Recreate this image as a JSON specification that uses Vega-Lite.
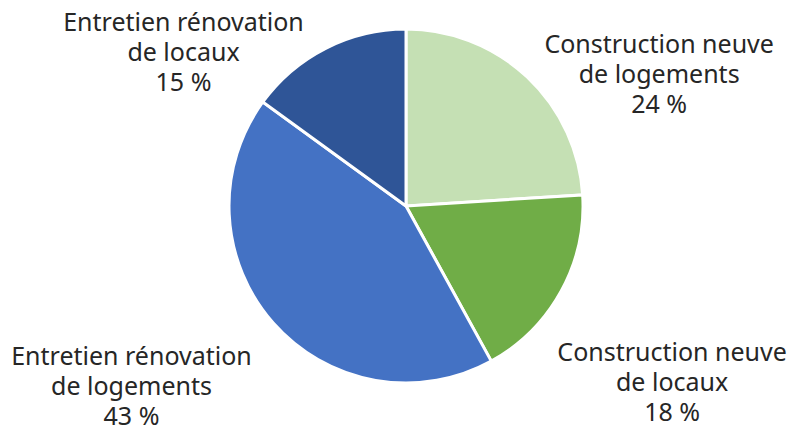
{
  "$schema": "https://vega.github.io/schema/vega-lite/v6.json",
  "width": 772,
  "height": 412,
  "autosize": "none",
  "padding": {"left": 20, "right": 0, "top": 0, "bottom": 15},
  "background": "white",
  "view": {"stroke": null},
  "data": {
    "values": [
      {"cat": "Construction neuve de logements", "label": "Construction neuve\nde logements\n24 %", "value": 24, "order": 1},
      {"cat": "Construction neuve de locaux", "label": "Construction neuve\nde locaux\n18 %", "value": 18, "order": 2},
      {"cat": "Entretien rénovation de logements", "label": "Entretien rénovation\nde logements\n43 %", "value": 43, "order": 3},
      {"cat": "Entretien rénovation de locaux", "label": "Entretien rénovation\nde locaux\n15 %", "value": 15, "order": 4}
    ]
  },
  "encoding": {
    "theta": {"field": "value", "type": "quantitative", "stack": true},
    "order": {"field": "order", "type": "quantitative"}
  },
  "layer": [
    {
      "mark": {"type": "arc", "outerRadius": 177, "stroke": "white", "strokeWidth": 3},
      "encoding": {
        "color": {
          "field": "cat", "type": "nominal", "legend": null,
          "scale": {
            "domain": ["Construction neuve de logements", "Construction neuve de locaux", "Entretien rénovation de logements", "Entretien rénovation de locaux"],
            "range": ["#C5E0B4", "#70AD47", "#4472C4", "#2F5597"]
          }
        }
      }
    },
    {
      "mark": {"type": "text", "radius": 250, "dx": 82, "dy": 21, "lineBreak": "\n", "font": "Noto Sans", "fontSize": 25, "lineHeight": 30, "color": "#262626", "align": "center", "baseline": "middle"},
      "encoding": {"text": {"condition": {"test": "datum.order == 1", "field": "label"}, "value": ""}}
    },
    {
      "mark": {"type": "text", "radius": 250, "dx": 47, "dy": 27, "lineBreak": "\n", "font": "Noto Sans", "fontSize": 25, "lineHeight": 30, "color": "#262626", "align": "center", "baseline": "middle"},
      "encoding": {"text": {"condition": {"test": "datum.order == 2", "field": "label"}, "value": ""}}
    },
    {
      "mark": {"type": "text", "radius": 250, "dx": -87, "dy": -14, "lineBreak": "\n", "font": "Noto Sans", "fontSize": 25, "lineHeight": 30, "color": "#262626", "align": "center", "baseline": "middle"},
      "encoding": {"text": {"condition": {"test": "datum.order == 3", "field": "label"}, "value": ""}}
    },
    {
      "mark": {"type": "text", "radius": 250, "dx": -109, "dy": 40, "lineBreak": "\n", "font": "Noto Sans", "fontSize": 25, "lineHeight": 30, "color": "#262626", "align": "center", "baseline": "middle"},
      "encoding": {"text": {"condition": {"test": "datum.order == 4", "field": "label"}, "value": ""}}
    }
  ]
}
